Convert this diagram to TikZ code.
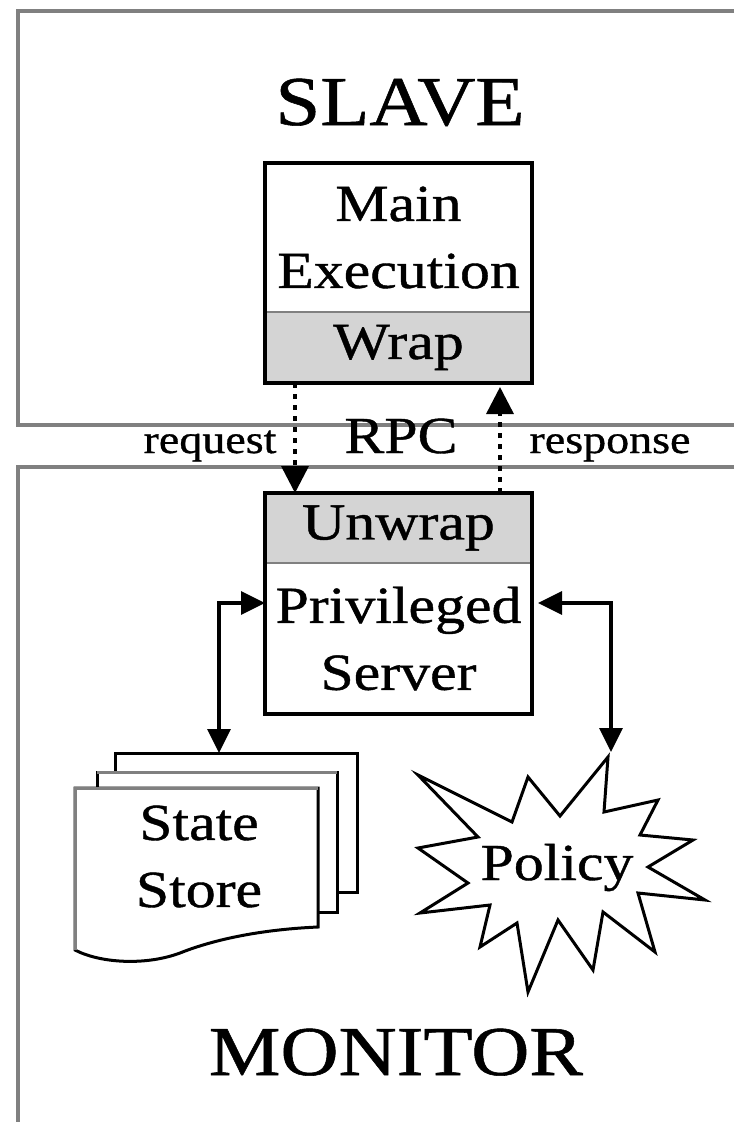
\documentclass[tikz,border=0pt]{standalone}
\usepackage{fontspec}
\setmainfont{Liberation Serif}[FakeStretch=1.15, FakeBold=0.8]
\usetikzlibrary{arrows.meta}
\definecolor{zonegray}{HTML}{808080}
\definecolor{wrapgray}{HTML}{D4D4D4}
\newcommand\titlefont{\fontsize{70}{84}\selectfont}
\newcommand\bodyfont{\fontsize{52}{67}\selectfont}
\newcommand\smallfont{\fontsize{40}{48}\selectfont}
\tikzset{
  zoneline/.style={draw=zonegray, line width=4pt},
  boxpart/.style={minimum width=267pt, inner sep=0pt, outer sep=0pt, align=center, font=\bodyfont},
  wrapped/.style={boxpart, fill=wrapgray},
  boxline/.style={line width=3.5pt},
  sheet/.style={draw, fill=white, line width=3pt},
  dataflow/.style={line width=3.5pt, >={Triangle[length=24pt,width=23pt]}, <->},
  rpc/.style={line width=3.5pt, dash pattern=on 5pt off 6pt, >={Triangle[length=27pt,width=27pt]}, ->},
}
\begin{document}
\begin{tikzpicture}[x=1pt,y=-1pt]
\useasboundingbox (0,0) rectangle (734,1122);
\draw[zoneline] (734,11) -- (18,11) -- (18,425) -- (734,425);
\draw[zoneline] (734,467) -- (18,467) -- (18,1122);
\node[font=\titlefont, anchor=base] (slave) at (400,125) {SLAVE};
\node[font=\titlefont, anchor=base] (monitor) at (396,1075) {MONITOR};

% slave side
\node[boxpart, minimum height=149pt] (exec) at (398.5,237.5) {Main\\Execution};
\node[wrapped, minimum height=71pt] (wrap) at (398.5,347.5) {Wrap};
\draw[zonegray, line width=2pt] (exec.south west) -- (exec.south east);
\draw[boxline] (exec.north west) rectangle (wrap.south east);

% monitor side
\node[wrapped, minimum height=70pt] (unwrap) at (398.5,528) {Unwrap};
\node[boxpart, minimum height=151pt] (priv) at (398.5,638.5) {Privileged\\Server};
\draw[zonegray, line width=2pt] (unwrap.south west) -- (unwrap.south east);
\draw[boxline] (unwrap.north west) rectangle (priv.south east);

% state store
\draw[sheet] (115,753) rectangle (357,892);
\draw[sheet] (97,772) rectangle (337,912);
\draw[zonegray, line width=3pt] (97,772) -- (337,772);
\draw[sheet] (318,927) .. controls (250,930) and (205,943) .. (180,953)
  .. controls (145,966) and (100,963) .. (75,950) -- (75,788) -- (318,788) -- cycle;
\draw[zonegray, line width=3pt] (75,950) -- (75,788) -- (318,788);
\node[font=\bodyfont, align=center] (store) at (199,856.5) {State\\Store};
\coordinate (storetop) at (219,753);

% policy
\coordinate (policytip) at (611,752);
\draw[line width=3pt, fill=white] (608,757) -- (604,812) -- (658,800) -- (640,835)
  -- (693,840) -- (648,867) -- (705,900) -- (638,893) -- (655,952) -- (603,912)
  -- (593,970) -- (558,920) -- (528,992) -- (517,923) -- (480,947) -- (490,905)
  -- (420,913) -- (468,883) -- (418,848) -- (478,837) -- (418,775) -- (512,822)
  -- (528,777) -- (560,816) -- cycle;
\node[font=\bodyfont, anchor=base] (policy) at (557,880) {Policy};

\draw[dataflow] ([yshift=35.5pt]priv.west) -| (storetop);
\draw[dataflow] ([xshift=6pt,yshift=35.5pt]priv.east) -| (policytip);

% rpc
\draw[rpc] ([xshift=30pt]wrap.south west) -- ([xshift=30pt]unwrap.north west);
\draw[rpc] ([xshift=-32pt]unwrap.north east) -- ([xshift=-32pt,yshift=-4pt]wrap.south east);
\node[font=\bodyfont, anchor=base] (rpclabel) at (401,453) {RPC};
\node[font=\smallfont, anchor=base] (request) at (210,453) {request};
\node[font=\smallfont, anchor=base] (response) at (610,453) {response};
\end{tikzpicture}
\end{document}
